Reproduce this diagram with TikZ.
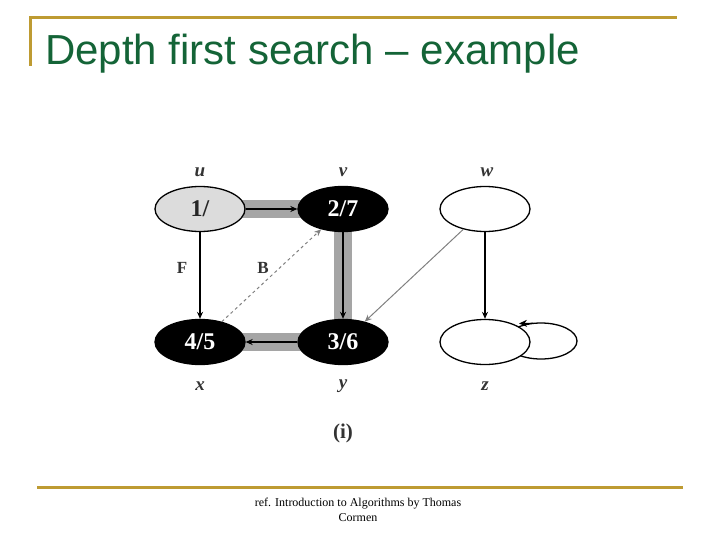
\documentclass[tikz,border=0pt]{standalone}
\usepackage{fontspec}
\setmainfont{Liberation Serif}
\newfontfamily\titlefont{Liberation Sans}
\usetikzlibrary{shapes.geometric,arrows.meta}
\definecolor{gold}{RGB}{190,155,50}
\definecolor{titlegreen}{RGB}{20,100,55}
\definecolor{hl}{RGB}{165,165,165}
\definecolor{lightfill}{RGB}{220,220,220}
\tikzset{
  vtx/.style={ellipse, draw=black, line width=1.3pt, minimum width=90pt, minimum height=45pt, inner sep=0pt, font=\bfseries\fontsize{24}{24}\selectfont},
  blk/.style={vtx, fill=black, text=white},
  wht/.style={vtx, fill=white},
  vlabel/.style={font=\itshape\bfseries\fontsize{19}{19}\selectfont, text=black!80},
  elabel/.style={font=\bfseries\fontsize{17}{17}\selectfont, text=black!80},
  tree/.style={line width=1.5pt, -{Stealth[length=7pt,width=6pt]}},
  band/.style={line width=18pt, hl},
  gray edge/.style={line width=1pt, gray, -{Stealth[length=7pt,width=6pt]}},
}
\begin{document}
\begin{tikzpicture}[x=1pt,y=-1pt]
\useasboundingbox (0,0) rectangle (720,540);
% title decorations
\draw[gold, line width=3pt] (30,18) -- (677,18);
\draw[gold, line width=3pt] (30,16.5) -- (30,66);
\node[anchor=base west, text=titlegreen, font=\titlefont\fontsize{42}{42}\selectfont, inner sep=0pt] (title) at (45,65) {Depth first search – example};
\draw[gold, line width=3pt] (37,487) -- (683,487);
\node[font=\fontsize{12}{15}\selectfont, align=center] (ref) at (358,510) {ref. Introduction to Algorithms by Thomas\\Cormen};
% highlight bands
\coordinate (bu) at (200,209);
\coordinate (bv) at (343,209);
\coordinate (bx) at (200,342);
\coordinate (by) at (343,342);
\draw[band] (bu) -- (bv);
\draw[band] (bv) -- (by);
\draw[band] (by) -- (bx);
% self-loop (drawn behind z)
\node[ellipse, draw=black, line width=1.3pt, minimum width=72pt, minimum height=36pt] (loop) at (541,341) {};
% nodes
\node[vtx, fill=lightfill, text=black!85] (u) at (200,209) {1/};
\node[blk] (v) at (343,209) {2/7};
\node[wht] (w) at (485,209) {};
\node[blk] (x) at (200,342) {4/5};
\node[blk] (y) at (343,342) {3/6};
\node[wht] (z) at (485,342) {};
% vertex labels
\node[vlabel] (lu) at (200,172) {u};
\node[vlabel] (lv) at (343,172) {v};
\node[vlabel] (lw) at (487,172) {w};
\node[vlabel] (lx) at (200,386) {x};
\node[vlabel] (ly) at (343,386) {y};
\node[vlabel] (lz) at (485,386) {z};
\node[font=\bfseries\fontsize{21}{21}\selectfont, text=black!80] (cap) at (343,433) {(i)};
% edges
\draw[tree] (u) -- (v);
\draw[tree] (v) -- (y);
\draw[tree] (y) -- (x);
\draw[tree] (u) -- (x);
\draw[gray edge, dashed] (x) -- (v);
\draw[gray edge] (w) -- (y);
\draw[tree] (w) -- (z);
\coordinate (tip) at (519,323.5);
\draw[line width=1pt, -{Stealth[length=8pt,width=7pt]}] (533,323.2) -- (tip);
\node[elabel] (F) at (182,268) {F};
\node[elabel] (B) at (263,268) {B};
\end{tikzpicture}
\end{document}
